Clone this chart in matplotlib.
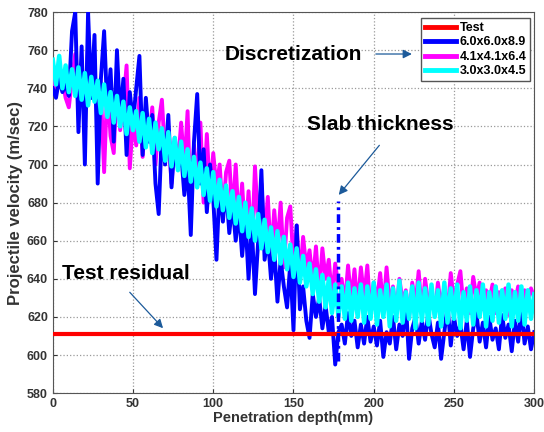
import numpy as np
import matplotlib.pyplot as plt

plt.rcParams['font.family'] = ['Liberation Sans', 'DejaVu Sans']
plt.rcParams['font.weight'] = 'bold'
plt.rcParams['axes.labelweight'] = 'bold'

# Profundidad de penetracion (mm), muestreo cada 2 mm
depth = list(range(0, 301, 2))

# Velocidad residual del ensayo (m/s)
test_residual = 611

# Malla 6.0x6.0x8.9
v_coarse = [740, 735, 745, 738, 742, 736, 770, 780, 717, 762,
            700, 780, 735, 768, 690, 745, 770, 728, 750, 712,
            760, 724, 745, 705, 738, 722, 740, 757, 705, 735,
            712, 726, 690, 674, 718, 700, 726, 688, 712, 698,
            706, 684, 700, 663, 712, 737, 690, 708, 675, 700,
            682, 650, 690, 670, 688, 664, 680, 660, 676, 652,
            672, 640, 668, 632, 660, 697, 650, 662, 640, 656,
            628, 650, 636, 625, 648, 613, 668, 624, 636, 618,
            609, 632, 620, 630, 614, 626, 612, 620, 595, 612,
            616, 606, 622, 610, 618, 604, 616, 606, 620, 607,
            615, 605, 618, 599, 612, 606, 620, 603, 616, 610,
            627, 598, 614, 620, 606, 618, 608, 622, 611, 604,
            617, 598, 612, 626, 605, 620, 610, 616, 603, 618,
            599, 614, 622, 607, 617, 604, 620, 608, 614, 603,
            621, 609, 616, 602, 618, 607, 624, 606, 615, 603,
            612]

# Malla 4.1x4.1x6.4
v_medium = [748, 738, 752, 744, 735, 730, 745, 758, 740, 752,
            728, 762, 735, 748, 720, 738, 696, 742, 715, 706,
            744, 718, 732, 752, 698, 724, 710, 735, 704, 728,
            712, 730, 700, 722, 734, 705, 718, 690, 714, 700,
            722, 698, 728, 676, 710, 690, 722, 680, 716, 684,
            706, 688, 700, 674, 696, 702, 672, 700, 668, 690,
            660, 686, 654, 699, 668, 690, 660, 683, 650, 676,
            656, 680, 646, 672, 678, 648, 668, 640, 662, 646,
            655, 638, 657, 632, 656, 640, 650, 630, 648, 636,
            640, 626, 647, 628, 645, 625, 646, 630, 647, 622,
            638, 628, 643, 624, 646, 626, 636, 622, 640, 628,
            634, 620, 638, 626, 644, 622, 640, 627, 632, 621,
            638, 625, 636, 622, 643, 628, 637, 644, 624, 635,
            622, 641, 630, 638, 624, 634, 628, 637, 622, 633,
            626, 635, 621, 634, 627, 636, 624, 634, 629, 635,
            630]

# Malla 3.0x3.0x4.5
v_fine = [755, 742, 757, 740, 752, 738, 750, 736, 751, 734,
          748, 731, 746, 733, 744, 727, 742, 725, 738, 722,
          736, 720, 733, 716, 730, 718, 728, 712, 727, 709,
          724, 706, 722, 708, 719, 702, 717, 699, 714, 697,
          712, 694, 708, 691, 704, 688, 701, 684, 698, 681,
          696, 678, 692, 676, 689, 672, 686, 669, 683, 665,
          680, 662, 677, 660, 674, 656, 671, 654, 667, 650,
          665, 648, 662, 645, 658, 641, 656, 638, 652, 636,
          648, 632, 645, 628, 642, 625, 640, 622, 637, 620,
          636, 619, 638, 618, 635, 620, 637, 617, 636, 619,
          638, 616, 634, 620, 637, 615, 635, 618, 639, 617,
          633, 619, 636, 614, 638, 618, 635, 616, 637, 620,
          634, 615, 638, 617, 635, 619, 637, 614, 633, 618,
          636, 616, 634, 620, 637, 615, 633, 618, 636, 617,
          634, 619, 637, 615, 633, 618, 636, 616, 634, 619,
          632]

# Espesor de la losa (linea vertical)
slab_depth = 178
slab_range = [597, 681]

fig = plt.figure(figsize=(5.44, 4.32), dpi=100)
ax = fig.add_axes([0.097, 0.090, 0.885, 0.882])

ax.plot([depth[0], depth[-1]], [test_residual, test_residual], color='#ff0000',
        lw=3.0, label='Test', zorder=6)
ax.plot(depth, v_medium, color='#ff00ff', lw=2.8, label='4.1x4.1x6.4', zorder=3)
ax.plot(depth, v_coarse, color='#0000ff', lw=2.8, label='6.0x6.0x8.9', zorder=4)
ax.plot(depth, v_fine, color='#00ffff', lw=3.2, label='3.0x3.0x4.5', zorder=5)
ax.plot([slab_depth, slab_depth], slab_range, color='#0000ff', lw=2.5,
        linestyle=(0, (2.5, 1.2, 0.8, 1.2)), zorder=7)

ax.set_xlim(0, 300)
ax.set_ylim(580, 780)
ax.set_xticks(range(0, 301, 50))
ax.set_yticks(range(580, 781, 20))
ax.grid(True, linestyle=':', color='#9a9a9a', lw=0.9)
ax.tick_params(direction='in', labelsize=9, colors='#333333', length=3)
for t in ax.get_xticklabels() + ax.get_yticklabels():
    t.set_fontweight('bold')
for s in ax.spines.values():
    s.set_color('#555555')
    s.set_linewidth(0.8)

ax.set_xlabel('Penetration depth(mm)', fontsize=10.5, fontweight='bold',
              color='#333333', labelpad=1)
ax.set_ylabel('Projectile velocity (m/sec)', fontsize=12, fontweight='bold',
              color='#333333', labelpad=3)

# Leyenda en el orden del original
h, l = ax.get_legend_handles_labels()
orden = [0, 2, 1, 3]
leg = ax.legend([h[i] for i in orden], [l[i] for i in orden], loc='upper right',
                bbox_to_anchor=(0.992, 0.984), borderaxespad=0,
                prop={'size': 9, 'weight': 'bold'},
                fancybox=False, edgecolor='#555555', framealpha=1,
                handlelength=2.5, handletextpad=0.3, labelspacing=0.2,
                borderpad=0.3)
for line in leg.get_lines():
    line.set_linewidth(3.5)

flecha = dict(arrowstyle='-|>', color='#1c5a9a', lw=0.9, mutation_scale=13)
ax.text(149.7, 758, 'Discretization', fontsize=15, fontweight='bold',
        ha='center', va='center')
ax.annotate('', xy=(225.5, 758), xytext=(199.6, 758), arrowprops=flecha)
ax.text(204, 721, 'Slab thickness', fontsize=15, fontweight='bold',
        ha='center', va='center')
ax.annotate('', xy=(177.1, 682.9), xytext=(204.6, 711.2), arrowprops=flecha)
ax.text(45.5, 643, 'Test residual', fontsize=15, fontweight='bold',
        ha='center', va='center')
ax.annotate('', xy=(69.9, 613), xytext=(46.8, 634), arrowprops=flecha)

plt.savefig('out.png', dpi=100)
